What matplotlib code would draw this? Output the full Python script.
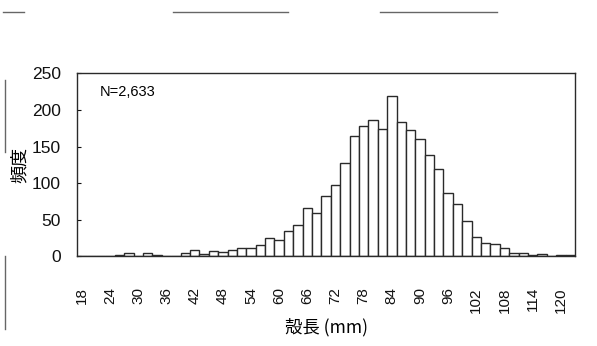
import numpy as np
import matplotlib
matplotlib.use("Agg")
import matplotlib.pyplot as plt
from matplotlib.lines import Line2D

plt.rcParams['font.family'] = ['Liberation Sans', 'Noto Sans CJK JP', 'DejaVu Sans']

# shell length classes (mm) and counts
lengths = list(range(18, 124, 2))
counts = [0, 0, 0, 0, 2, 5, 0, 5, 2, 1,
          1, 5, 9, 3, 7, 6, 9, 12, 12, 16,
          25, 22, 35, 43, 66, 59, 83, 98, 127, 164,
          178, 186, 174, 219, 183, 173, 160, 138, 120, 86,
          71, 48, 26, 18, 17, 12, 5, 5, 2, 3,
          1, 2, 2]
tick_labels = [str(v) for v in lengths[::3]]
n_label = "N=2,633"

fig = plt.figure(figsize=(5.97, 3.46), dpi=100)
ax = fig.add_axes([0.1295, 0.2587, 0.8335, 0.5293])

x = np.arange(len(lengths))
ax.bar(x, counts, width=1.0, color='white', edgecolor='#2a2a2a', linewidth=1.0)

ax.set_xlim(-0.5, len(lengths) - 0.5)
ax.set_ylim(0, 250)
ax.set_yticks(range(0, 251, 50))
ax.tick_params(axis='y', direction='in', length=3, width=0.8, labelsize=12.5, pad=12, colors='#111111')
ax.set_xticks(x[::3])
ax.set_xticklabels(tick_labels, rotation=90, fontsize=11)
ax.tick_params(axis='x', length=0, pad=22, colors='#111111')

for s in ax.spines.values():
    s.set_color('#2a2a2a')
    s.set_linewidth(1.0)

ax.text(0.045, 0.9, n_label, transform=ax.transAxes, fontsize=10.5, va='center', ha='left')
ax.set_xlabel("殻長 (mm)", family=['Noto Sans CJK JP', 'DejaVu Sans'], fontsize=12.5, labelpad=4)
ax.set_ylabel("頻度", family=['Noto Sans CJK JP', 'DejaVu Sans'], fontsize=13, labelpad=2)

# scan border fragments
for xs, ys in [([0.005, 0.04], [0.964, 0.964]), ([0.29, 0.483], [0.965, 0.965]),
               ([0.637, 0.833], [0.966, 0.966]), ([0.009, 0.009], [0.77, 0.56]),
               ([0.009, 0.009], [0.26, 0.05])]:
    fig.add_artist(Line2D(xs, ys, transform=fig.transFigure, color='#666666', linewidth=1.0))

fig.savefig("out.png", dpi=100, facecolor='white')
